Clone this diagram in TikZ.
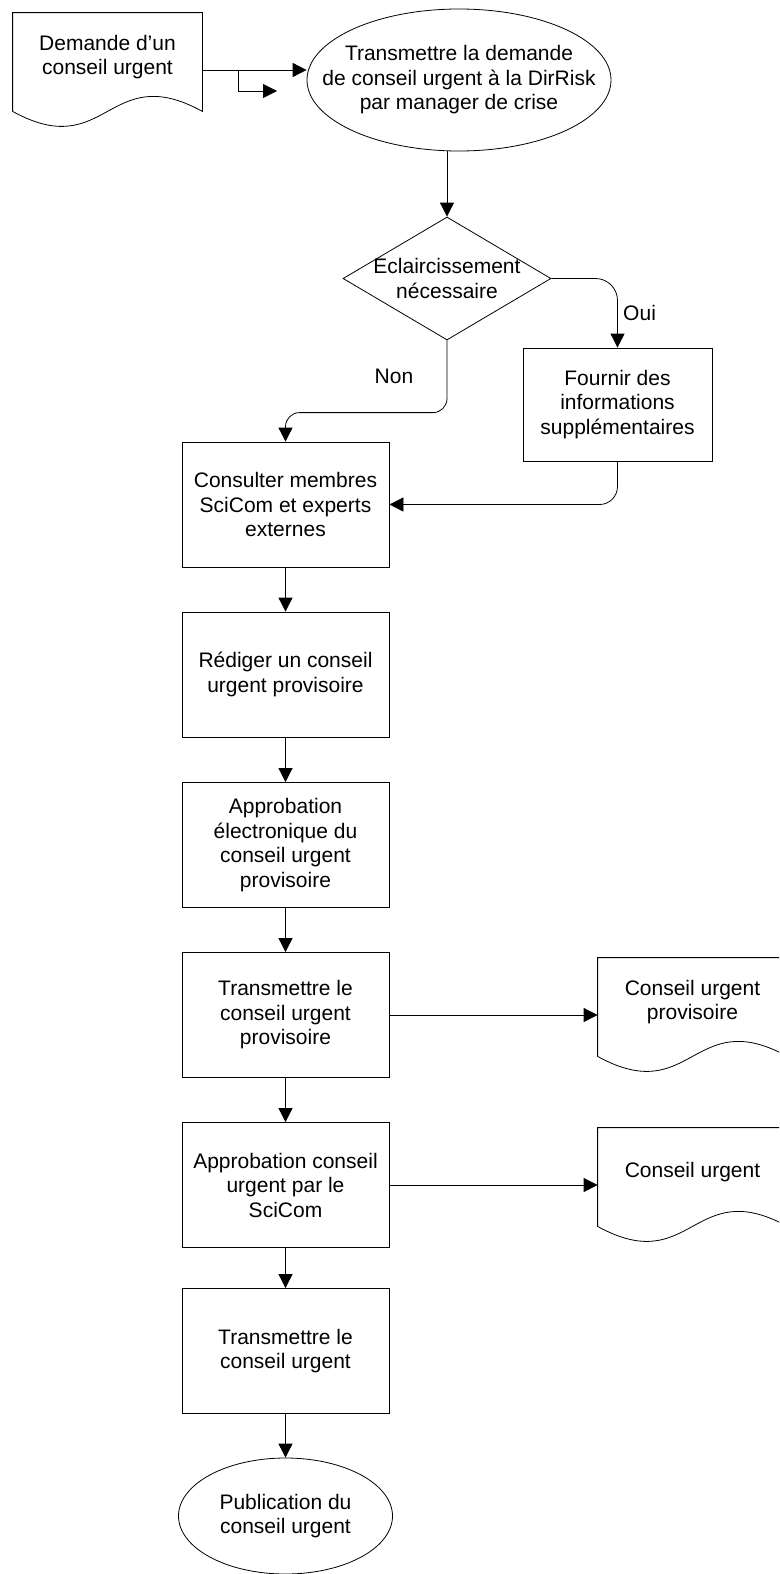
\documentclass[tikz,border=0pt]{standalone}
\usepackage{fontspec}
\setmainfont{Liberation Sans}
\usetikzlibrary{arrows.meta,shapes.geometric,calc}
\tikzset{%
    flow_step/.style={%
        rectangle, draw, minimum width=207pt, minimum height=125pt, align=center
    },
    flow_info/.style={%
        rectangle, draw, minimum width=189pt, minimum height=113pt, align=center
    },
    flow_terminal/.style={%
        ellipse, draw, inner sep=0pt, align=center
    },
    flow_decision/.style={%
        diamond, draw, inner sep=0pt, minimum width=208pt, minimum height=123pt
    },
    flow_doc/.style={%
        rectangle, minimum width=189pt, minimum height=114pt,
        append after command={\pgfextra{\draw (\tikzlastnode.north west) -- (\tikzlastnode.north east)
          -- ([yshift=16pt]\tikzlastnode.south east) .. controls +(-94.5,-52) and +(94.5,52) .. ([yshift=16pt]\tikzlastnode.south west) -- cycle;}}
    },
    doc_txt/.style={%
        align=center, yshift=13pt
    },
    txt/.style={%
        align=center
    },
}

\begin{document}
\begin{tikzpicture}[x=1pt, y=-1pt, line width=0.8pt, >={Triangle[length=14pt,width=14pt]}, font=\fontsize{21}{24.5}\selectfont]
      \clip (0,0) rectangle (779,1574);

      \node[flow_doc, label={[doc_txt]center:Demande d’un\\conseil urgent}] (demande) at (107.5,70) {};
      \node[flow_terminal, minimum width=304pt, minimum height=142pt, label={[txt]center:Transmettre la demande\\de conseil urgent à la DirRisk\\par manager de crise}] (transdem) at (459,80) {};
      \node[flow_decision, label={[txt]center:Eclaircissement\\nécessaire}] (eclair) at (447,278.5) {};
      \node[flow_info] (fournir) at (617.5,404.5) {Fournir des\\informations\\supplémentaires};
      \node[flow_step] (consult) at (285.5,504.5) {Consulter membres\\SciCom et experts\\externes};
      \node[flow_step] (rediger) at (285.5,674.5) {Rédiger un conseil\\urgent provisoire};
      \node[flow_step] (approelec) at (285.5,845) {Approbation\\électronique du\\conseil urgent\\provisoire};
      \node[flow_step] (transprov) at (285.5,1015) {Transmettre le\\conseil urgent\\provisoire};
      \node[flow_step] (approsci) at (285.5,1185) {Approbation conseil\\urgent par le\\SciCom};
      \node[flow_step] (transfin) at (285.5,1351) {Transmettre le\\conseil urgent};
      \node[flow_terminal, minimum width=214pt, minimum height=116pt] (publi) at (285.5,1516) {Publication du\\conseil urgent};
      \node[flow_doc, label={[doc_txt]center:Conseil urgent\\provisoire}] (docprov) at (692.5,1015) {};
      \node[flow_doc, label={[doc_txt]center:Conseil urgent}] (docfinal) at (692.5,1185) {};
      \coordinate (loose) at (277,91);

      \draw [->] (demande.east) -- (demande.east -| transdem.west);
      \draw [->] ([xshift=36pt]demande.east) |- (loose);
      \draw [->] (eclair.north |- transdem.south) -- (eclair.north);
      \draw [->, rounded corners=22pt] (eclair.east) -| node[pos=0.75, right, xshift=2pt]{Oui} (fournir.north);
      \draw [->, rounded corners=14pt] (eclair.south) |- node[pos=0.25, left=30pt]{Non} ($(consult.north)+(0,-29)$) -- (consult.north);
      \draw [->, rounded corners=18pt] (fournir.south) |- (consult.east);
      \draw [->] (consult) -- (rediger);
      \draw [->] (rediger) -- (approelec);
      \draw [->] (approelec) -- (transprov);
      \draw [->] (transprov) -- (approsci);
      \draw [->] (approsci) -- (transfin);
      \draw [->] (transfin) -- (publi);
      \draw [->] (transprov) -- (docprov);
      \draw [->] (approsci) -- (docfinal);
    \end{tikzpicture}
\end{document}
